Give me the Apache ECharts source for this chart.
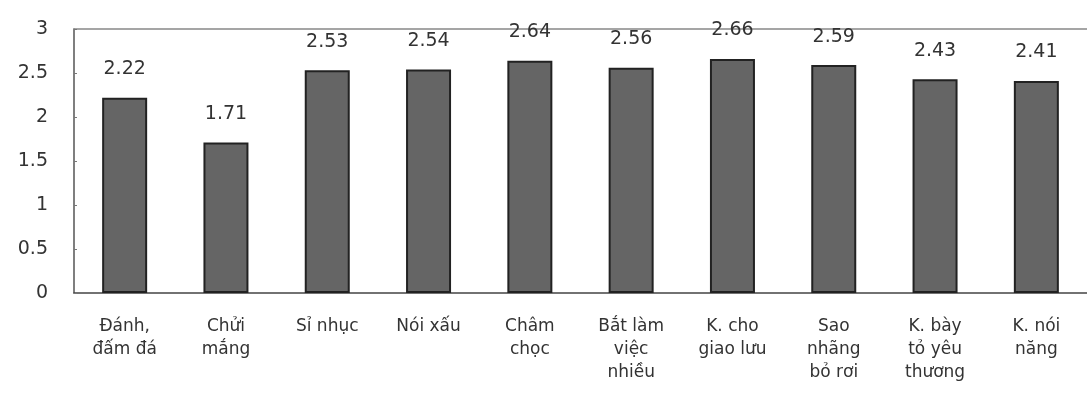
<!DOCTYPE html>
<html>
<head>
<meta charset="utf-8">
<script src="https://cdn.jsdelivr.net/npm/echarts@6/dist/echarts.min.js"></script>
<style>
html,body{margin:0;padding:0;background:#fff;}
#c{width:1087px;height:405px;}
</style>
</head>
<body>
<div id="c"></div>
<script>
const categories = [
  "Đánh,\nđấm đá",
  "Chửi\nmắng",
  "Sỉ nhục",
  "Nói xấu",
  "Châm\nchọc",
  "Bắt làm\nviệc\nnhiều",
  "K. cho\ngiao lưu",
  "Sao\nnhãng\nbỏ rơi",
  "K. bày\ntỏ yêu\nthương",
  "K. nói\nnăng"
];
const values = [2.22, 1.71, 2.53, 2.54, 2.64, 2.56, 2.66, 2.59, 2.43, 2.41];
const yMin = 0, yMax = 3, yStep = 0.5;

const chart = echarts.init(document.getElementById('c'), null, {renderer: 'canvas'});
const font = 'DejaVu Sans, Liberation Sans, sans-serif';
chart.setOption({
  backgroundColor: '#ffffff',
  animation: false,
  grid: {left: 74, top: 29, width: 1023, bottom: 112, containLabel: false},
  xAxis: [{
    type: 'category',
    data: categories,
    position: 'bottom',
    axisLine: {show: true, lineStyle: {color: '#444', width: 1.5}},
    axisTick: {show: false},
    axisLabel: {
      interval: 0, margin: 22, color: '#333', fontFamily: font,
      fontSize: 17, lineHeight: 23, align: 'center', verticalAlign: 'top'
    }
  }, {
    type: 'category',
    data: categories,
    position: 'top',
    axisLine: {show: true, lineStyle: {color: '#888', width: 1.5}},
    axisTick: {show: false},
    axisLabel: {show: false}
  }],
  yAxis: {
    type: 'value',
    min: yMin, max: yMax, interval: yStep,
    axisLine: {show: true, lineStyle: {color: '#555', width: 1.5}},
    axisTick: {show: true, inside: true, length: 3, lineStyle: {color: '#777'}},
    splitLine: {show: false},
    axisLabel: {color: '#333', fontFamily: font, fontSize: 19, margin: 26}
  },
  series: [{
    type: 'bar',
    data: values,
    barWidth: 45,
    itemStyle: {color: '#656565', borderColor: '#222', borderWidth: 2},
    label: {
      show: true, position: 'top', distance: 19,
      color: '#333', fontFamily: font, fontSize: 19,
      formatter: p => p.value.toFixed(2)
    }
  }]
});
</script>
</body>
</html>
